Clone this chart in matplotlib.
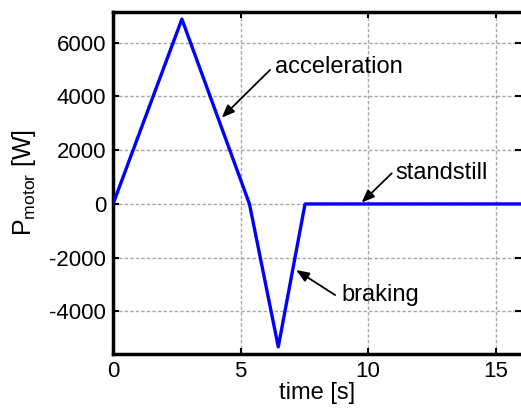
import matplotlib
matplotlib.use('Agg')
import matplotlib.pyplot as plt

# Motorleistung über die Zeit
time = [0, 2.7, 5.35, 6.48, 7.53, 16]
power = [0, 6880, 0, -5320, 0, 0]

xticks = [0, 5, 10, 15]
yticks = [-4000, -2000, 0, 2000, 4000, 6000]

plt.rcParams['font.family'] = ['Liberation Sans', 'DejaVu Sans']
plt.rcParams['mathtext.fontset'] = 'custom'
plt.rcParams['mathtext.rm'] = 'Liberation Sans'
plt.rcParams['mathtext.it'] = 'Liberation Sans'
plt.rcParams['axes.unicode_minus'] = False

fig = plt.figure(figsize=(5.21, 4.08), dpi=100)
ax = fig.add_axes([0.217, 0.132, 0.783, 0.839])

ax.plot(time, power, color='#0000ff', linewidth=2.4, zorder=3)

ax.set_xlim(0, 16)
ax.set_ylim(-5590, 7150)
ax.set_xticks(xticks)
ax.set_yticks(yticks)
ax.tick_params(direction='in', length=4, width=1.5, labelsize=16,
               top=True, right=True, pad=5)
ax.grid(True, color='#a8a8a8', linestyle=(0, (2.5, 1.5)), linewidth=1.0)

for s in ['left', 'bottom', 'top']:
    ax.spines[s].set_linewidth(2.5)
ax.spines['right'].set_visible(False)

ax.set_xlabel('time [s]', fontsize=17, labelpad=0)
ax.set_ylabel('P$_{\\rm motor}$ [W]', fontsize=18, labelpad=8)

# Beschriftungen mit Pfeilen
arrow = dict(arrowstyle='-|>,head_length=0.55,head_width=0.22', color='black',
             lw=1.3, mutation_scale=14, shrinkA=0, shrinkB=0)
ax.annotate('', xy=(4.26, 3210), xytext=(6.16, 4990), arrowprops=arrow)
ax.text(6.35, 5080, 'acceleration', fontsize=17, va='center')
ax.annotate('', xy=(9.75, 50), xytext=(10.93, 1140), arrowprops=arrow)
ax.text(11.06, 1160, 'standstill', fontsize=17, va='center')
ax.annotate('', xy=(7.18, -2460), xytext=(8.71, -3390), arrowprops=arrow)
ax.text(8.94, -3390, 'braking', fontsize=17, va='center')

fig.savefig('out.png', dpi=100)
